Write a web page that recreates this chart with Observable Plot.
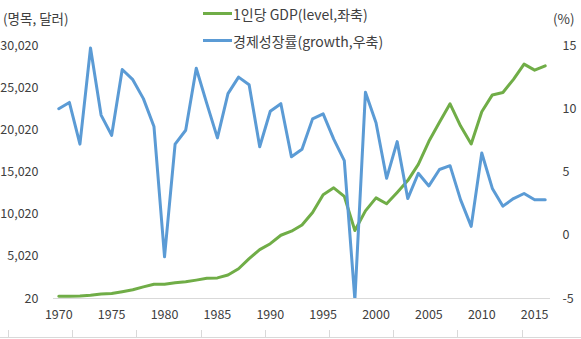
<!DOCTYPE html>
<html><head><meta charset="utf-8">
<script src="https://cdn.jsdelivr.net/npm/d3@7"></script>
<script src="https://cdn.jsdelivr.net/npm/@observablehq/plot@0.6"></script>
<style>
body{margin:0;background:#fff;font-family:"Noto Sans CJK KR","Noto Sans",sans-serif;}
#wrap{position:relative;width:581px;height:339px;overflow:hidden}
#wrap svg{position:absolute;left:0;top:0}
.lbl{position:absolute;font-size:13.5px;color:#404040;white-space:nowrap;line-height:16px;height:16px}
.leg{position:absolute;left:203px;display:flex;align-items:center;font-size:14px;color:#404040;white-space:nowrap;line-height:16px;height:16px}
.sw{display:inline-block;width:29px;height:3px;margin-right:1px}
#foot{position:absolute;left:0;top:330px;width:581px;height:7px;border-bottom:1px solid #d9d9d9;
 background:repeating-linear-gradient(to right,transparent 0px,transparent 8px,#d9d9d9 8px,#d9d9d9 9px,transparent 9px,transparent 64.2px)}
</style></head>
<body>
<div id="wrap"></div>
<script>
const years = [1970,1971,1972,1973,1974,1975,1976,1977,1978,1979,1980,1981,1982,1983,1984,1985,1986,1987,1988,1989,1990,1991,1992,1993,1994,1995,1996,1997,1998,1999,2000,2001,2002,2003,2004,2005,2006,2007,2008,2009,2010,2011,2012,2013,2014,2015,2016];
const gdpPerCapita = [280,300,320,400,560,610,830,1050,1400,1700,1700,1880,2000,2200,2410,2460,2800,3550,4750,5810,6520,7520,8000,8740,10210,12330,13140,12130,8090,10410,11950,11250,12600,14000,15920,18660,20920,23100,20470,18340,22170,24160,24450,26000,27810,27100,27610];
const growthRate = [10.0,10.5,7.2,14.8,9.5,7.9,13.1,12.3,10.8,8.6,-1.7,7.2,8.3,13.2,10.4,7.7,11.2,12.5,11.9,7.0,9.8,10.4,6.2,6.8,9.2,9.6,7.6,5.9,-5.1,11.3,8.9,4.5,7.4,2.9,4.9,3.9,5.2,5.5,2.8,0.7,6.5,3.7,2.3,2.9,3.3,2.8,2.8];
const xTicks = [1970,1975,1980,1985,1990,1995,2000,2005,2010,2015];
const leftTicks = [20,5020,10020,15020,20020,25020,30020];
const rightTicks = [-5,0,5,10,15];
const legendLabels = ["1인당 GDP(level,좌축)","경제성장률(growth,우축)"];
const colors = ["#70AD47","#5B9BD5"];

const toY = g => 20 + (g + 5) * 1500;
const fromY = v => Math.round((v - 20) / 1500 - 5);
const data = years.map((yr, i) => ({year: yr, gdp: gdpPerCapita[i], growth: growthRate[i]}));

const chart = Plot.plot({
  width: 581, height: 339,
  marginTop: 45, marginBottom: 41, marginLeft: 53, marginRight: 31,
  style: {fontFamily: '"Noto Sans CJK KR","Noto Sans",sans-serif', fontSize: "12.5px", color: "#404040", background: "transparent"},
  x: {domain: [1969.5, 2016.5]},
  y: {domain: [20, 30020]},
  marks: [
    Plot.ruleY([20], {stroke: "#d9d9d9", strokeWidth: 1}),
    Plot.axisX({ticks: xTicks, tickSize: 0, tickPadding: 12, tickFormat: d => String(d), label: null}),
    Plot.axisY({ticks: leftTicks, tickSize: 0, tickPadding: 15, tickFormat: d3.format(","), label: null}),
    Plot.axisY({anchor: "right", ticks: rightTicks.map(toY), tickSize: 0, tickPadding: 12, tickFormat: v => String(fromY(v)), label: null}),
    Plot.line(data, {x: "year", y: "gdp", stroke: colors[0], strokeWidth: 3}),
    Plot.line(data, {x: "year", y: d => toY(d.growth), stroke: colors[1], strokeWidth: 3, clip: true})
  ]
});
const wrap = document.getElementById("wrap");
wrap.appendChild(chart);

function addLabel(text, left, centerY) {
  const d = document.createElement("div");
  d.className = "lbl"; d.textContent = text;
  d.style.left = left + "px"; d.style.top = (centerY - 8) + "px";
  wrap.appendChild(d);
}
addLabel("(명목, 달러)", 3, 17.5);
addLabel("(%)", 553, 18);

legendLabels.forEach((t, i) => {
  const d = document.createElement("div");
  d.className = "leg";
  d.style.top = ([13.5, 40.5][i] - 8) + "px";
  const sw = document.createElement("span");
  sw.className = "sw"; sw.style.background = colors[i];
  d.appendChild(sw);
  d.appendChild(document.createTextNode(t));
  wrap.appendChild(d);
});
const foot = document.createElement("div");
foot.id = "foot";
wrap.appendChild(foot);
</script>
</body></html>
